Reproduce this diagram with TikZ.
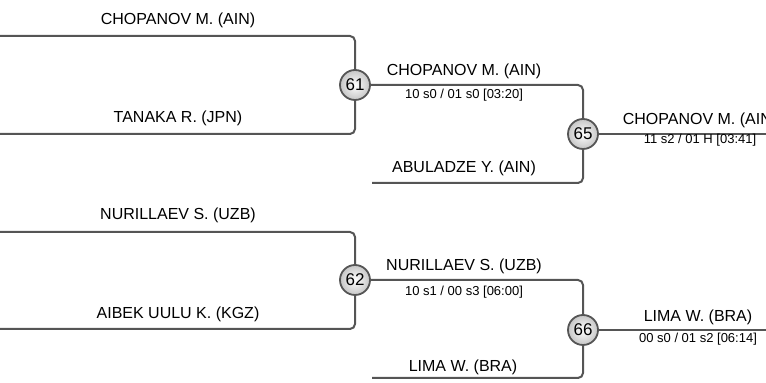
\documentclass[tikz,border=0pt]{standalone}
\usepackage{fontspec}
\setmainfont{Liberation Sans}
\definecolor{bracketgray}{HTML}{555555}
\begin{document}
\begin{tikzpicture}[x=0.5pt,y=-0.5pt,
    bline/.style={draw=bracketgray, line width=1pt, rounded corners=2.5pt},
    bout/.style={circle, draw=bracketgray, line width=0.9pt, inner sep=0pt,
      minimum size=15pt, inner color=white, outer color=gray!45,
      font=\fontsize{8.5}{9}\selectfont},
    pname/.style={font=\fontsize{8}{9}\selectfont, inner sep=0pt},
    pscore/.style={font=\fontsize{6.5}{7}\selectfont, inner sep=0pt}]
  \useasboundingbox (0,0) rectangle (766,383);
  \clip (0,0) rectangle (766,383);
  % bout circles
  \node[bout] (m61) at (355,85) {61};
  \node[bout] (m62) at (355,280) {62};
  \node[bout] (m65) at (583,134) {65};
  \node[bout] (m66) at (583,330) {66};
  % line ends
  \coordinate (s1) at (0,36);
  \coordinate (s2) at (0,134);
  \coordinate (s3) at (0,232);
  \coordinate (s4) at (0,329);
  \coordinate (s5) at (372,183);
  \coordinate (s6) at (372,378);
  \coordinate (f1) at (766,134);
  \coordinate (f2) at (766,330);
  % connectors
  \draw[bline] (s1) -| (m61);
  \draw[bline] (s2) -| (m61);
  \draw[bline] (s3) -| (m62);
  \draw[bline] (s4) -| (m62);
  \draw[bline] (m61) -| (m65);
  \draw[bline] (s5) -| (m65);
  \draw[bline] (m62) -| (m66);
  \draw[bline] (s6) -| (m66);
  \draw[bline] (m65) -- (f1);
  \draw[bline] (m66) -- (f2);
  % names
  \node[pname] (n1) at (178,20) {CHOPANOV M. (AIN)};
  \node[pname] (n2) at (178,118) {TANAKA R. (JPN)};
  \node[pname] (n3) at (178,215) {NURILLAEV S. (UZB)};
  \node[pname] (n4) at (178,314) {AIBEK UULU K. (KGZ)};
  \node[pname] (n5) at (464,71) {CHOPANOV M. (AIN)};
  \node[pname] (n6) at (464,168) {ABULADZE Y. (AIN)};
  \node[pname] (n7) at (464,266) {NURILLAEV S. (UZB)};
  \node[pname] (n8) at (463,367) {LIMA W. (BRA)};
  \node[pname] (n9) at (700,120) {CHOPANOV M. (AIN)};
  \node[pname] (n10) at (698,317) {LIMA W. (BRA)};
  % scores
  \node[pscore] (r1) at (464,95) {10 s0 / 01 s0 [03:20]};
  \node[pscore] (r2) at (464,292) {10 s1 / 00 s3 [06:00]};
  \node[pscore] (r3) at (700,140) {11 s2 / 01 H [03:41]};
  \node[pscore] (r4) at (698,339) {00 s0 / 01 s2 [06:14]};
\end{tikzpicture}
\end{document}
